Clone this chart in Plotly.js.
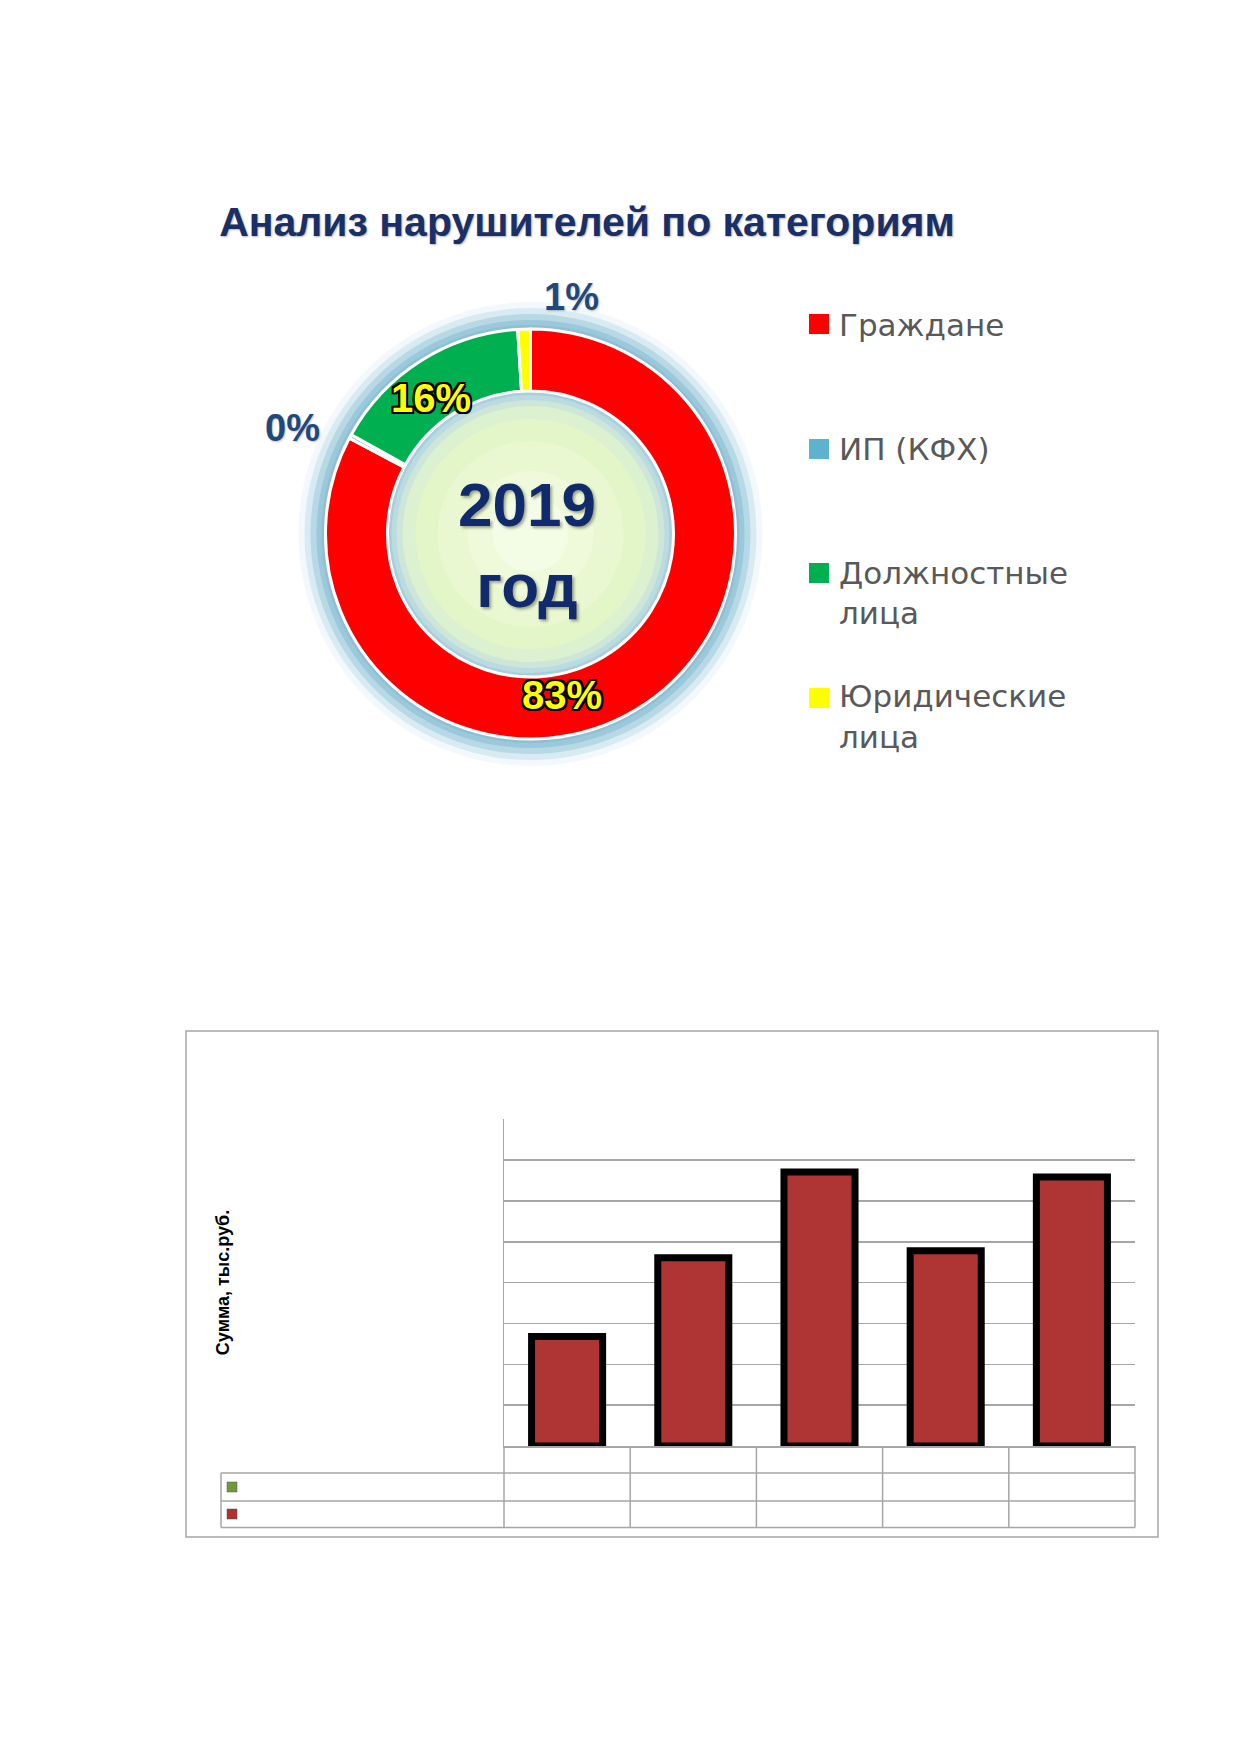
<!DOCTYPE html>
<html>
<head>
<meta charset="utf-8">
<script src="https://cdn.plot.ly/plotly-3.0.1.min.js"></script>
<style>
  body { margin: 0; background: #fff; }
  #chart { width: 1239px; height: 1752px; }
</style>
</head>
<body>
<div id="chart"></div>
<script>
// donut: share of violators by category, 2019
const categories = ['Граждане', 'ИП (КФХ)', 'Должностные лица', 'Юридические лица']
const shares = [83, 0.3, 16, 1]
const sliceColors = ['#FF0000', '#5DB3CE', '#00B050', '#FFFF00']
const centerText = ['2019', 'год']

// bars: amounts, thousand roubles (axis labels are hidden in the source)
const years = ['2015', '2016', '2017', '2018', '2019']
const amounts = [268, 461, 671, 478, 659]

const W = 1239
const H = 1752
const px = x => x / W
const py = y => 1 - y / H

// legend entries: wrap long names, pad to three lines so the rows are spaced like the source
const legendLabels = categories.map(c => {
  const lines = c.length > 12 ? c.split(' ') : [c]
  while (lines.length < 3) lines.push(' ')
  return lines.join('<br>')
})

const total = shares.reduce((a, b) => a + b, 0)
const pctText = shares.map(v => Math.round(v / total * 100) + '%')

const cx = 530.5
const cy = 534
const rOut = 205
const rIn = 143

function circle (r, color) {
  return {
    type: 'circle', xref: 'paper', yref: 'paper', layer: 'below',
    x0: px(cx - r), x1: px(cx + r), y0: py(cy + r), y1: py(cy - r),
    fillcolor: color, line: { width: 0 },
  }
}

function line (x0, y0, x1, y1, color = '#A6A6A6', width = 1.5) {
  return {
    type: 'line', xref: 'paper', yref: 'paper', layer: 'above',
    x0: px(x0), x1: px(x1), y0: py(y0), y1: py(y1),
    line: { color, width },
  }
}

function square (x, y, s, color) {
  return {
    type: 'rect', xref: 'paper', yref: 'paper', layer: 'above',
    x0: px(x - s / 2), x1: px(x + s / 2), y0: py(y + s / 2), y1: py(y - s / 2),
    fillcolor: color, line: { color: '#555', width: 0.5 },
  }
}

const shapes = []

// soft blue glow around the ring and light green centre
const glow = [
  [232, 'rgba(170,210,225,0.15)'],
  [226, 'rgba(160,205,222,0.3)'],
  [220, 'rgba(150,198,216,0.5)'],
  [214, 'rgba(145,195,214,0.75)'],
  [209, 'rgba(140,192,212,0.95)'],
  [rIn, '#A7CFDD'],
  [rIn - 4, '#BADBDF'],
  [rIn - 9, '#CDE6D9'],
  [rIn - 15, '#DCF1CF'],
  [rIn - 28, '#E3F6C8'],
  [rIn - 50, '#E9F8D0'],
  [rIn - 80, '#EEFAD9'],
  [rIn - 105, '#F3FCE4'],
]
glow.forEach(g => shapes.push(circle(g[0], g[1])))

// bar chart frame
const plotL = 504
const plotR = 1135
const plotT = 1119
const plotB = 1446
shapes.push({
  type: 'rect', xref: 'paper', yref: 'paper', layer: 'below',
  x0: px(186), x1: px(1158), y0: py(1537), y1: py(1031),
  line: { color: '#A6A6A6', width: 1.5 },
})

// data table under the bars (no text in the source)
const rowY = [plotB, 1473, 1501, 1527.5]
const tableL = 221
shapes.push(line(plotL, rowY[1], plotR, rowY[1]))
shapes.push(line(tableL, rowY[1], plotL, rowY[1]))
shapes.push(line(tableL, rowY[2], plotR, rowY[2]))
shapes.push(line(tableL, rowY[3], plotR, rowY[3]))
shapes.push(line(tableL, rowY[1], tableL, rowY[3]))
const colW = (plotR - plotL) / years.length
for (let i = 0; i <= years.length; i++) {
  shapes.push(line(plotL + i * colW, plotB, plotL + i * colW, rowY[3]))
}
shapes.push(square(232, 1487, 10, '#6E9A3A'))
shapes.push(square(232, 1514, 10, '#B0302E'))

const labelPos = [[562, 695], [292, 428], [431, 398], [571, 297]]
const inside = [true, false, true, false]
const outline = '-2px -2px 0 #000, 2px -2px 0 #000, -2px 2px 0 #000, 2px 2px 0 #000, 0 2px 0 #000, 0 -2px 0 #000, 2px 0 0 #000, -2px 0 0 #000'

const annotations = pctText.map((t, i) => ({
  xref: 'paper', yref: 'paper',
  x: px(labelPos[i][0]), y: py(labelPos[i][1]),
  xanchor: 'center', yanchor: 'middle',
  text: t, showarrow: false,
  font: inside[i]
    ? { family: 'Liberation Sans', size: 40, weight: 'bold', color: '#FFFF00', shadow: outline }
    : { family: 'Liberation Sans', size: 38, weight: 'bold', color: '#1F497D', shadow: '1px 1px 2px rgba(0,0,0,0.25)' },
}))

annotations.push({
  xref: 'paper', yref: 'paper',
  x: px(527), y: py(545),
  xanchor: 'center', yanchor: 'middle',
  text: centerText.join('<br>'), showarrow: false,
  font: { family: 'Liberation Sans', size: 62, weight: 'bold', color: '#102A6B', shadow: '2px 2px 3px rgba(0,0,0,0.35)' },
})

// larger legend keys, drawn over the small pie legend symbols
sliceColors.forEach((c, i) => annotations.push({
  xref: 'paper', yref: 'paper',
  x: px(819), y: py(324 + i * 124.5),
  xanchor: 'center', yanchor: 'middle',
  text: ' ', showarrow: false,
  width: 20, height: 20, borderpad: 0, borderwidth: 0,
  bgcolor: c,
}))

const data = [
  {
    type: 'pie',
    labels: legendLabels,
    values: shares,
    sort: false,
    direction: 'clockwise',
    rotation: 0,
    hole: rIn / rOut,
    textinfo: 'none',
    hoverinfo: 'label+percent',
    marker: { colors: sliceColors, line: { color: '#FFFFFF', width: 3 } },
    domain: { x: [px(cx - rOut), px(cx + rOut)], y: [py(cy + rOut), py(cy - rOut)] },
  },
  {
    type: 'bar',
    x: years,
    y: amounts,
    xaxis: 'x',
    yaxis: 'y',
    width: 0.563,
    showlegend: false,
    marker: { color: '#AE3533', line: { color: '#000000', width: 7 } },
  },
]

const layout = {
  width: W,
  height: H,
  margin: { l: 0, r: 0, t: 0, b: 0 },
  paper_bgcolor: '#FFFFFF',
  plot_bgcolor: 'rgba(0,0,0,0)',
  title: {
    text: 'Анализ нарушителей по категориям',
    x: px(587), xanchor: 'center',
    y: py(222), yanchor: 'middle',
    font: { family: 'Liberation Sans', size: 41, weight: 'bold', color: '#1A2F66', shadow: '1px 1px 2px rgba(0,0,0,0.3)' },
  },
  legend: {
    x: px(799), xanchor: 'left',
    y: py(297), yanchor: 'top',
    valign: 'top',
    bgcolor: 'rgba(0,0,0,0)',
    font: { family: 'DejaVu Sans', size: 31, color: '#595959' },
  },
  xaxis: {
    domain: [px(plotL), px(plotR)],
    type: 'category',
    showticklabels: false,
    showgrid: false,
    showline: true,
    linecolor: '#A6A6A6',
    linewidth: 1.5,
    ticks: '',
    zeroline: false,
    fixedrange: true,
  },
  yaxis: {
    domain: [py(plotB), py(plotT)],
    range: [0, 800.8],
    dtick: 100,
    showticklabels: false,
    showgrid: true,
    gridcolor: '#A6A6A6',
    gridwidth: 1.5,
    showline: true,
    linecolor: '#A6A6A6',
    linewidth: 1.5,
    ticks: '',
    zeroline: false,
    fixedrange: true,
    title: {
      text: 'Сумма, тыс.руб.',
      standoff: 268,
      font: { family: 'Liberation Sans', size: 18, weight: 'bold', color: '#000000' },
    },
  },
  shapes,
  annotations,
}

Plotly.newPlot('chart', data, layout, { displayModeBar: false, staticPlot: true })
</script>
</body>
</html>
